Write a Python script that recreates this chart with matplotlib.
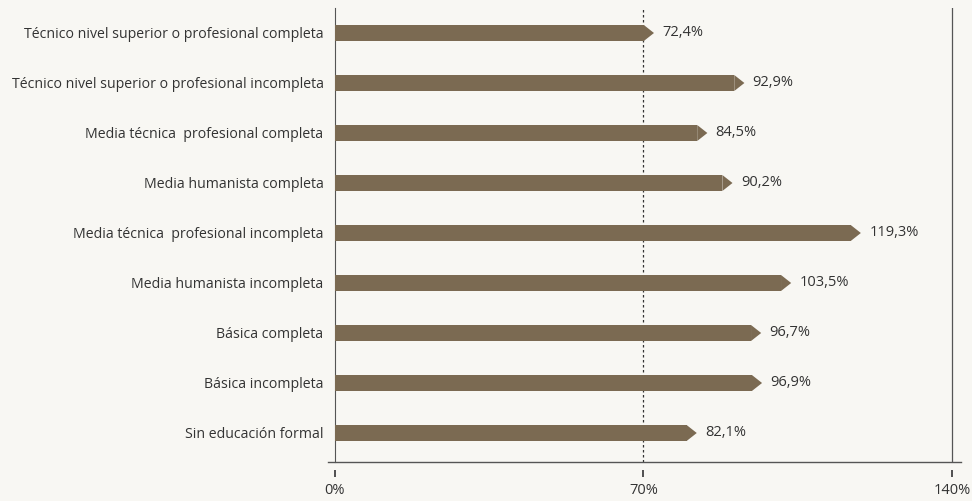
import numpy as np
import matplotlib.pyplot as plt
from matplotlib.patches import Polygon

# Datos
categorias = [
    "Técnico nivel superior o profesional completa",
    "Técnico nivel superior o profesional incompleta",
    "Media técnica  profesional completa",
    "Media humanista completa",
    "Media técnica  profesional incompleta",
    "Media humanista incompleta",
    "Básica completa",
    "Básica incompleta",
    "Sin educación formal",
]
valores = [72.4, 92.9, 84.5, 90.2, 119.3, 103.5, 96.7, 96.9, 82.1]
ticks_x = [0, 70, 140]
etiquetas_x = ["0%", "70%", "140%"]

# Estilo
fondo = "#f8f7f3"
color_barra = "#7b6a52"
color_texto = "#333333"
plt.rcParams['font.family'] = ['Open Sans', 'DejaVu Sans']

fig = plt.figure(figsize=(9.72, 5.01), dpi=100, facecolor=fondo)
ax = fig.add_axes([328 / 972, 39 / 501, 633 / 972, 454 / 501], facecolor=fondo)

n = len(categorias)
y = np.arange(n)[::-1]
alto = 0.32
punta = 2.3  # largo de la punta de flecha (en %)

# Cuerpo de las barras + punta
ax.barh(y, [v - punta for v in valores], height=alto, color=color_barra, zorder=3)
for yi, v in zip(y, valores):
    ax.add_patch(Polygon([(v - punta, yi - alto / 2), (v, yi), (v - punta, yi + alto / 2)],
                         closed=True, color=color_barra, lw=0, zorder=3))
    ax.annotate(f"{v:.1f}%".replace(".", ","), xy=(v, yi), xytext=(6, 0),
                textcoords="offset points", va="center", ha="left",
                fontsize=10.5, color=color_texto)

ax.set_xlim(-1.5, 142)
ax.set_ylim(-0.58, n - 0.5)

# Línea de referencia en 70%
ax.axvline(70, color="#333333", lw=0.9, ls=(0, (2, 2)), zorder=2)
ax.axvline(140, color="#555555", lw=0.9, zorder=2)
ax.axhline(ax.get_ylim()[0], color="#555555", lw=1.0, zorder=4, clip_on=False)

# Ejes
ax.spines['top'].set_visible(False)
ax.spines['right'].set_visible(False)
ax.spines['left'].set_position(('data', 0))
ax.spines['left'].set_color("#555555")
ax.spines['bottom'].set_position(('outward', 6))
ax.spines['bottom'].set_visible(False)

ax.set_yticks(y)
ax.set_yticklabels(categorias, fontsize=10.2, color=color_texto)
ax.tick_params(axis='y', length=0, pad=8)
ax.set_xticks(ticks_x)
ax.set_xticklabels(etiquetas_x, fontsize=10.5, color=color_texto)
ax.tick_params(axis='x', length=5, width=1.2, color="#333333", pad=4)

plt.savefig("out.png", dpi=100, facecolor=fondo)
